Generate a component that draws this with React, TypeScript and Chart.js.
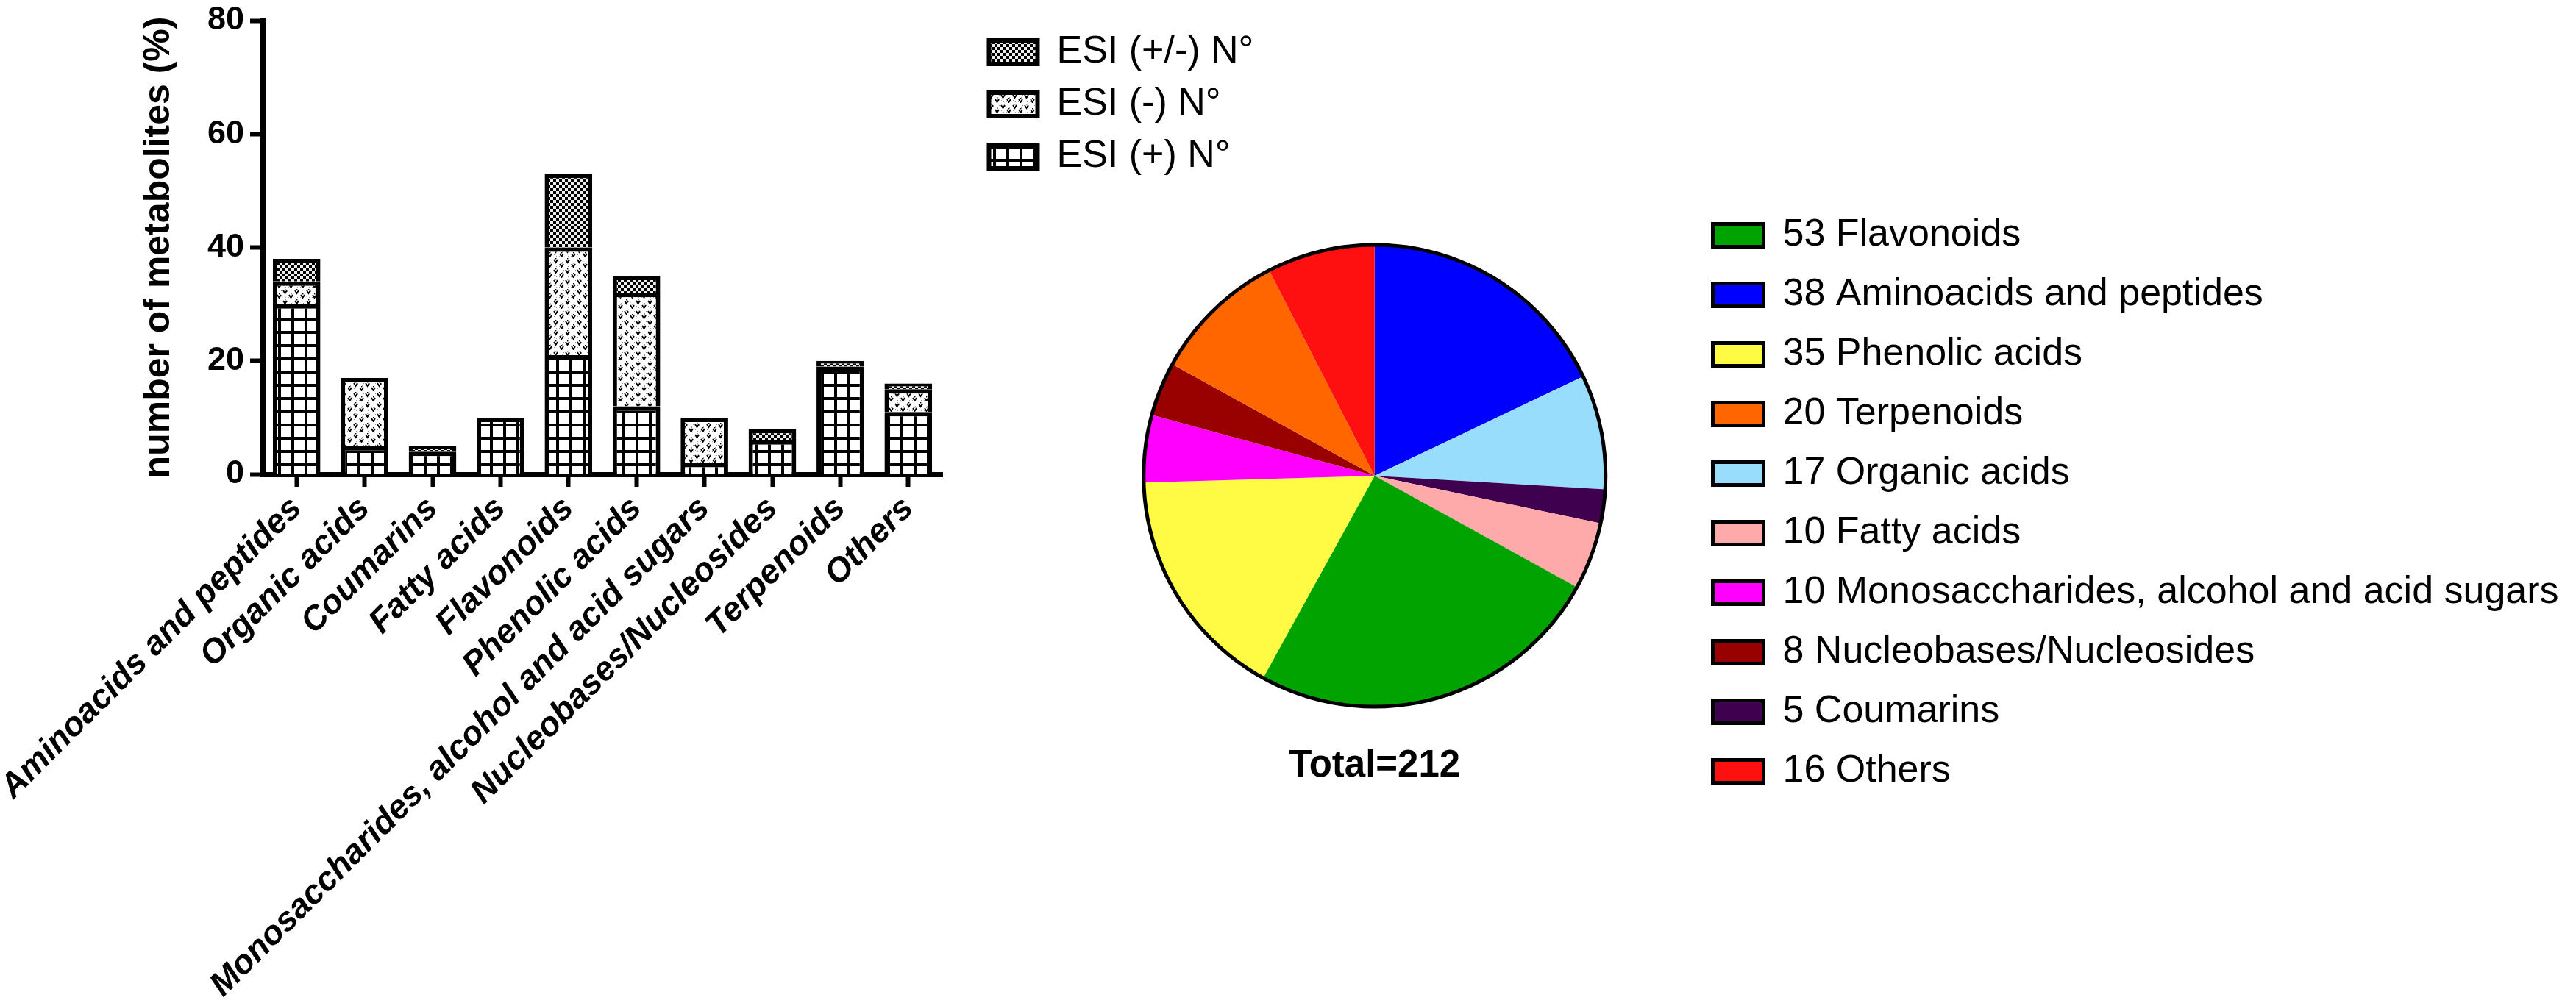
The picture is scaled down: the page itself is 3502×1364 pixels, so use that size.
import React, { useEffect, useRef } from 'react';
import { Chart, registerables } from 'chart.js';

Chart.register(...registerables);

// ---------- data ----------
const categories = [
  'Aminoacids and peptides',
  'Organic acids',
  'Coumarins',
  'Fatty acids',
  'Flavonoids',
  'Phenolic acids',
  'Monosaccharides, alcohol and acid sugars',
  'Nucleobases/Nucleosides',
  'Terpenoids',
  'Others',
];
const esiPos = [30, 5, 4, 10, 21, 12, 2, 6, 19, 11];
const esiNeg = [4, 12, 0, 0, 19, 20, 8, 0, 0, 4];
const esiBoth = [4, 0, 1, 0, 13, 3, 0, 2, 1, 1];
const seriesLabels = ['ESI (+) N°', 'ESI (-) N°', 'ESI (+/-) N°'];
const yTicks = [0, 20, 40, 60, 80];
const yTitle = 'number of metabolites (%)';

const pieCounts = [38, 17, 5, 10, 53, 35, 10, 8, 20, 16];
const pieColors = ['#0000FF', '#99DDFC', '#400050', '#FFAAAA', '#00A300', '#FFFB44', '#FF00FF', '#990000', '#FF6600', '#FF1010'];
const pieLegendOrder = [4, 0, 5, 8, 1, 3, 6, 7, 2, 9];

// ---------- layout / styling ----------
const FONT = "'Liberation Sans', Arial, Helvetica, sans-serif";
const PAGE_H = 1364;
const BAR_W = 1780;
const PIE_LEFT = 1438;
const PIE_W = 3502 - PIE_LEFT;
const LEGEND_FONT = 52;

function measure(texts: string[], size: number): number {
  const c = document.createElement('canvas');
  const g = c.getContext('2d');
  if (!g) return 0;
  g.font = `normal ${size}px ${FONT}`;
  return Math.max(...texts.map((t) => g.measureText(t).width));
}

function makePattern(kind: string): CanvasPattern | string {
  const c = document.createElement('canvas');
  const g = c.getContext('2d');
  if (!g) return '#fff';
  if (kind === 'grid') {
    c.width = 18; c.height = 18;
    g.fillStyle = '#fff'; g.fillRect(0, 0, 18, 18);
    g.fillStyle = '#000';
    g.fillRect(0, 0, 18, 4);
    g.fillRect(0, 0, 4, 18);
  } else if (kind === 'v') {
    c.width = 16; c.height = 14;
    g.fillStyle = '#fff'; g.fillRect(0, 0, 16, 14);
    g.fillStyle = '#999';
    [[6, 4], [14, 3], [1, 10], [8, 12], [12, 6], [4, 12]].forEach(([x, y]) => g.fillRect(x, y, 1, 1));
    g.strokeStyle = '#000'; g.lineWidth = 1.8;
    const v = (x: number, y: number) => {
      g.beginPath(); g.moveTo(x, y); g.lineTo(x + 2.5, y + 4); g.lineTo(x + 5, y); g.stroke();
      g.fillStyle = '#000'; g.fillRect(x + 2, y - 2, 1.4, 1.4);
    };
    v(1, 3); v(9, 9);
  } else {
    c.width = 8; c.height = 8;
    g.fillStyle = '#000'; g.fillRect(0, 0, 8, 8);
    g.fillStyle = '#eee';
    g.fillRect(0, 0, 4, 4);
    g.fillRect(4, 4, 4, 4);
  }
  return g.createPattern(c, 'repeat') || '#fff';
}

const pieOutline = {
  id: 'pieOutline',
  afterDatasetsDraw(chart: any) {
    const arc = chart.getDatasetMeta(0).data[0];
    if (!arc) return;
    const { x, y, outerRadius } = arc.getProps(['x', 'y', 'outerRadius'], true);
    const ctx = chart.ctx;
    ctx.save();
    ctx.beginPath();
    ctx.arc(x, y, outerRadius, 0, Math.PI * 2);
    ctx.lineWidth = 5;
    ctx.strokeStyle = '#000';
    ctx.stroke();
    ctx.restore();
  },
};

export default function App() {
  const barRef = useRef<HTMLCanvasElement>(null);
  const pieRef = useRef<HTMLCanvasElement>(null);

  useEffect(() => {
    Chart.defaults.font.family = FONT;
    Chart.defaults.color = '#000';

    const pPos = makePattern('grid');
    const pNeg = makePattern('v');
    const pBoth = makePattern('checker');

    // bar legend: box at page x ~1344, natural legend width so text is not clipped
    const barLegendPad = 19, barBoxW = 66;
    const barLegendW = barLegendPad + barBoxW + LEGEND_FONT / 2 + measure(seriesLabels, LEGEND_FONT) + 10;
    const barLegendLeft = 1325.5;
    const barPadRight = Math.max(0, BAR_W - barLegendLeft - barLegendW);

    const bar = new Chart(barRef.current as HTMLCanvasElement, {
      type: 'bar',
      data: {
        labels: categories,
        datasets: [
          { label: seriesLabels[0], data: esiPos, backgroundColor: pPos as any },
          { label: seriesLabels[1], data: esiNeg, backgroundColor: pNeg as any },
          { label: seriesLabels[2], data: esiBoth, backgroundColor: pBoth as any },
        ],
      },
      options: {
        responsive: false,
        animation: false,
        devicePixelRatio: 1,
        layout: { padding: { left: 186, top: 26, right: barPadRight, bottom: 0 }, autoPadding: false },
        datasets: {
          bar: {
            borderColor: '#000',
            borderWidth: 6,
            borderSkipped: 'start',
            barPercentage: 0.7,
            categoryPercentage: 1,
            inflateAmount: 0,
          },
        },
        scales: {
          x: {
            stacked: true,
            offset: true,
            grid: { display: true, drawOnChartArea: false, offset: false, drawTicks: true, tickLength: 17, tickWidth: 6, tickColor: '#000' },
            border: { display: true, color: '#000', width: 7 },
            ticks: {
              autoSkip: false,
              maxRotation: 45,
              minRotation: 45,
              padding: 3,
              color: '#000',
              font: { size: 46, weight: 'bold', style: 'italic' },
            },
            afterFit: (s: any) => { s.height = PAGE_H - 645; s.paddingLeft = 0; s.paddingRight = 0; },
          },
          y: {
            stacked: true,
            min: yTicks[0],
            max: yTicks[yTicks.length - 1],
            ticks: { stepSize: yTicks[1] - yTicks[0], padding: 8, color: '#000', font: { size: 45, weight: 'bold' } },
            grid: { display: true, drawOnChartArea: false, drawTicks: true, tickLength: 17, tickWidth: 6, tickColor: '#000' },
            border: { display: true, color: '#000', width: 7 },
            title: { display: true, text: yTitle, color: '#000', padding: { top: 0, bottom: 0 }, font: { size: 50, weight: 'bold', lineHeight: 1.2 } },
            afterFit: (s: any) => { s.width = 171; s.paddingTop = 28; s.paddingBottom = 0; },
          },
          y2: {
            type: 'linear',
            position: 'right',
            display: true,
            grid: { display: false },
            border: { display: false },
            ticks: { display: false },
            afterFit: (s: any) => { s.width = 44.5; s.paddingTop = 0; s.paddingBottom = 0; },
          },
        },
        plugins: {
          legend: {
            position: 'right',
            align: 'start',
            reverse: true,
            maxWidth: 5000,
            labels: { boxWidth: barBoxW, boxHeight: 32, padding: barLegendPad, color: '#000', font: { size: LEGEND_FONT } },
          },
          tooltip: { enabled: false },
        },
      } as any,
    });

    const total = pieCounts.reduce((a, b) => a + b, 0);
    const pieTexts = pieLegendOrder.map((i) => `${pieCounts[i]} ${categories[i]}`);
    const pieLegendPad = 29, pieBoxW = 69;
    const pieLegendW = pieLegendPad + pieBoxW + LEGEND_FONT / 2 + measure(pieTexts, LEGEND_FONT) + 10;
    const pieLegendLeft = 861.5; // canvas coords (page x 2299.5)
    const piePadRight = Math.max(0, PIE_W - pieLegendLeft - pieLegendW);

    const pie = new Chart(pieRef.current as HTMLCanvasElement, {
      type: 'pie',
      data: {
        labels: categories,
        datasets: [{ data: pieCounts, backgroundColor: pieColors, borderWidth: 0, radius: 314 } as any],
      },
      options: {
        responsive: false,
        animation: false,
        devicePixelRatio: 1,
        radius: 314,
        layout: { padding: { left: 0, top: 265, right: piePadRight, bottom: 0 }, autoPadding: false },
        plugins: {
          legend: {
            position: 'right',
            align: 'start',
            maxWidth: 5000,
            labels: {
              boxWidth: pieBoxW,
              boxHeight: 31,
              padding: pieLegendPad,
              color: '#000',
              font: { size: LEGEND_FONT },
              generateLabels: () =>
                pieLegendOrder.map((i, k) => ({
                  text: pieTexts[k],
                  fillStyle: pieColors[i],
                  strokeStyle: '#000',
                  lineWidth: 5,
                  hidden: false,
                  index: i,
                  datasetIndex: 0,
                  fontColor: '#000',
                })),
            },
          },
          title: {
            display: true,
            text: `Total=${total}`,
            position: 'bottom',
            fullSize: false,
            color: '#000',
            font: { size: 51, weight: 'bold', lineHeight: 0.5 },
            padding: { top: 0, bottom: 309.5 },
          },
          tooltip: { enabled: false },
        },
      } as any,
      plugins: [pieOutline],
    });

    return () => {
      bar.destroy();
      pie.destroy();
    };
  }, []);

  return (
    <div style={{ position: 'absolute', left: 0, top: 0, width: 3502, height: PAGE_H, background: '#fff', overflow: 'hidden' }}>
      <canvas ref={barRef} width={BAR_W} height={PAGE_H} style={{ position: 'absolute', left: 0, top: 0, width: BAR_W, height: PAGE_H }} />
      <canvas ref={pieRef} width={PIE_W} height={PAGE_H} style={{ position: 'absolute', left: PIE_LEFT, top: 0, width: PIE_W, height: PAGE_H }} />
    </div>
  );
}
